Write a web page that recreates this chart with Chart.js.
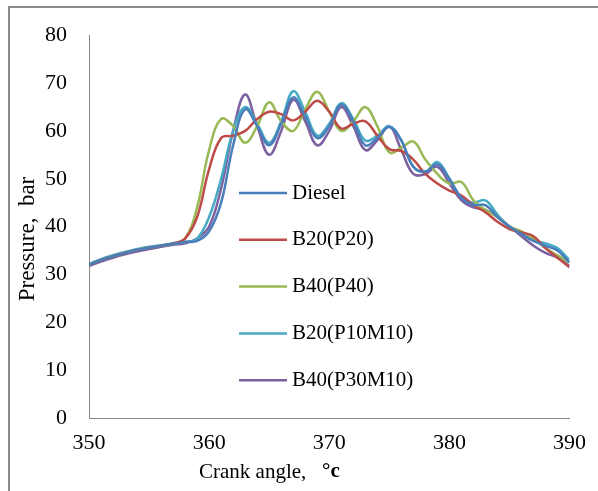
<!DOCTYPE html>
<html>
<head>
<meta charset="utf-8">
<script src="https://cdn.jsdelivr.net/npm/chart.js@4.4.1/dist/chart.umd.min.js"></script>
<style>
  html, body { margin: 0; padding: 0; background: #fff; }
  #wrap { position: relative; width: 598px; height: 491px; overflow: hidden; }
  #frame { position: absolute; left: 8px; top: 6px; width: 700px; height: 600px;
           border-left: 2px solid #8a8a8a; border-top: 2px solid #8a8a8a; }
  canvas { position: absolute; left: 0; top: 0; }
</style>
</head>
<body>
<div id="wrap">
  <div id="frame"></div>
  <canvas id="pressureChart" width="598" height="491"></canvas>
</div>
<script>
// crank angle, degrees
const angles = [350, 351, 352, 353, 354, 355, 356, 357, 358, 359,
                360, 361, 362, 363, 364, 365, 366, 367, 368, 369,
                370, 371, 372, 373, 374, 375, 376, 377, 378, 379,
                380, 381, 382, 383, 384, 385, 386, 387, 388, 389, 390];

// pressure, bar
const diesel = [32, 33, 33.8, 34.5, 35.1, 35.6, 36, 36.4, 36.8, 37,
                39, 45, 57, 64.5, 61, 57, 61.5, 67, 63, 58.5,
                61, 65.5, 62, 57, 58.5, 60.8, 58, 52.5, 51.5, 53,
                50, 46, 44.5, 44.5, 42, 40, 38.5, 37, 36, 35, 32.5];

const b20p20 = [32, 33, 33.8, 34.5, 35.1, 35.6, 36, 36.5, 37.5, 42,
                52, 58.5, 59, 60, 62.5, 64, 63.5, 62.2, 64, 66.3,
                64, 60.5, 61.5, 62, 59, 56.2, 55.8, 54, 51, 49,
                47.5, 46.5, 44.5, 43, 41, 39.5, 38.8, 38, 35.5, 33.5, 31.5];

const b40p40 = [32, 33, 33.8, 34.5, 35.1, 35.6, 36, 36.4, 37.5, 44,
                56, 62.5, 61, 57.5, 61, 66, 62, 60, 64.5, 68.2,
                64, 60, 62, 65, 61, 55.5, 56.5, 57.8, 54, 51,
                49, 49.3, 45.5, 43.5, 42, 40, 39, 37.5, 35.5, 34, 32.5];

const b20p10m10 = [32.2, 33.2, 34, 34.7, 35.3, 35.8, 36.1, 36.5, 36.8, 37.5,
                   42, 50, 60, 65, 61.5, 57.5, 62, 68.3, 64, 59,
                   61.5, 65.8, 62.5, 58, 59, 61, 58, 52.5, 51.5, 53.5,
                   50, 46, 45, 45.5, 42.5, 40, 38.5, 37, 36.5, 35.5, 33];

const b40p30m10 = [31.8, 32.7, 33.5, 34.2, 34.8, 35.3, 35.8, 36.2, 36.5, 37.5,
                   40, 48, 60, 67.6, 61, 55, 60, 66.5, 62, 57,
                   60, 65, 61, 56, 58, 61, 56, 51, 51, 52.5,
                   49, 45.5, 44, 43.5, 42, 40, 38, 36, 34.5, 33.5, 31.8];

const seriesNames = ["Diesel", "B20(P20)", "B40(P40)", "B20(P10M10)", "B40(P30M10)"];
const seriesColors = ["#4a7ebb", "#be4b48", "#98b954", "#46aac5", "#7d60a0"];
const seriesValues = [diesel, b20p20, b40p40, b20p10m10, b40p30m10];

const xTicks = [350, 360, 370, 380, 390];
const yTicks = [0, 10, 20, 30, 40, 50, 60, 70, 80];

const serif = "'Liberation Serif', 'Times New Roman', serif";

const datasets = seriesValues.map((vals, i) => ({
    label: seriesNames[i],
    data: vals.map((v, j) => ({ x: angles[j], y: v })),
    borderColor: seriesColors[i],
    backgroundColor: seriesColors[i],
    borderWidth: 2.5,
    pointRadius: 0,
    tension: 0.4,
    fill: false
}));

/* legend and axis titles drawn inside the plot like the original */
const extrasPlugin = {
    id: "extras",
    afterDraw(chart) {
        const ctx = chart.ctx;
        ctx.save();
        ctx.textBaseline = "middle";
        ctx.fillStyle = "#000";
        ctx.font = "21px " + serif;
        chart.data.datasets.forEach((ds, i) => {
            const y = 193 + i * 46.8;
            ctx.strokeStyle = ds.borderColor;
            ctx.lineWidth = 2.5;
            ctx.beginPath();
            ctx.moveTo(239, y);
            ctx.lineTo(287, y);
            ctx.stroke();
            ctx.fillText(ds.label, 292, y);
        });

        ctx.font = "21px " + serif;
        ctx.textAlign = "left";
        ctx.fillText("Crank angle,", 199, 472);
        ctx.font = "bold 21px " + serif;
        ctx.fillText("\u00b0c", 322, 472);

        ctx.translate(28, 239);
        ctx.rotate(-Math.PI / 2);
        ctx.textAlign = "center";
        ctx.font = "23px " + serif;
        ctx.fillText("Pressure,  bar", 0, 0);
        ctx.restore();
    }
};

new Chart(document.getElementById("pressureChart"), {
    type: "line",
    data: { datasets: datasets },
    options: {
        responsive: false,
        animation: false,
        layout: { padding: { left: 0, top: 24, right: 28, bottom: 0 } },
        plugins: {
            legend: { display: false },
            tooltip: { enabled: false }
        },
        scales: {
            x: {
                type: "linear",
                min: xTicks[0],
                max: xTicks[xTicks.length - 1],
                afterFit: (s) => { s.height = 73; },
                afterBuildTicks: (s) => { s.ticks = xTicks.map(v => ({ value: v })); },
                grid: { display: false, drawTicks: false },
                border: { display: true, color: "#868686", width: 1 },
                ticks: { color: "#000", padding: 12, font: { family: serif, size: 22 } }
            },
            y: {
                min: yTicks[0],
                max: yTicks[yTicks.length - 1],
                afterFit: (s) => { s.width = 89; },
                afterBuildTicks: (s) => { s.ticks = yTicks.map(v => ({ value: v })); },
                grid: { display: false, drawTicks: false },
                border: { display: true, color: "#868686", width: 1 },
                ticks: { color: "#000", padding: 22, font: { family: serif, size: 22 } }
            }
        }
    },
    plugins: [extrasPlugin]
});
</script>
</body>
</html>
